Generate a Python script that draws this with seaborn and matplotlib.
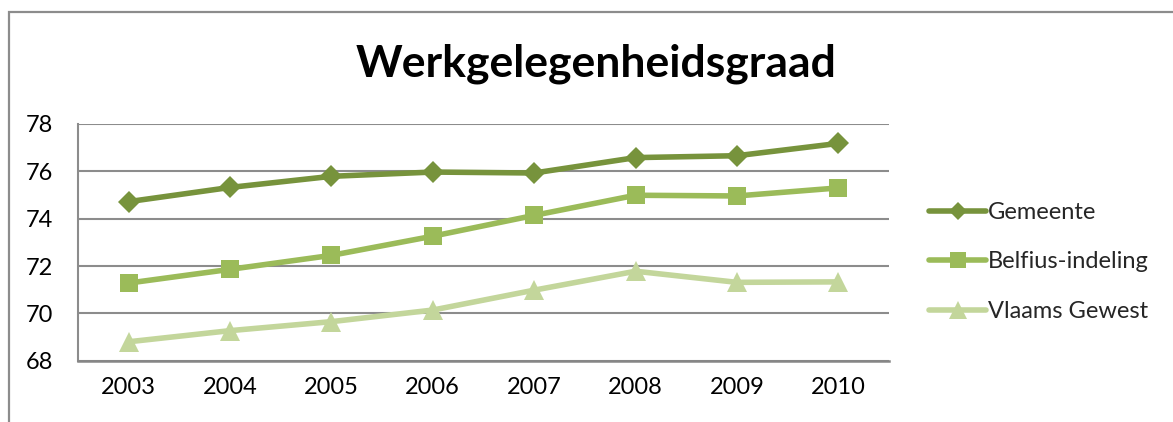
import matplotlib
matplotlib.use("Agg")
import matplotlib.pyplot as plt
from matplotlib.patches import Rectangle
import seaborn as sns
import pandas as pd

years = ["2003", "2004", "2005", "2006", "2007", "2008", "2009", "2010"]
gemeente = [74.72, 75.32, 75.79, 75.97, 75.93, 76.58, 76.66, 77.18]
belfius = [71.28, 71.86, 72.45, 73.26, 74.14, 74.99, 74.96, 75.30]
vlaams = [68.80, 69.27, 69.65, 70.14, 70.98, 71.78, 71.31, 71.33]
series_names = ["Gemeente", "Belfius-indeling", "Vlaams Gewest"]
y_ticks = [68, 70, 72, 74, 76, 78]
title = "Werkgelegenheidsgraad"

colors = {"Gemeente": "#77933C", "Belfius-indeling": "#9BBB59", "Vlaams Gewest": "#C3D69B"}
markers = {"Gemeente": "D", "Belfius-indeling": "s", "Vlaams Gewest": "^"}
sizes = {"Gemeente": 11, "Belfius-indeling": 13, "Vlaams Gewest": 15}

rows = []
for name, vals in zip(series_names, [gemeente, belfius, vlaams]):
    for i, v in enumerate(vals):
        rows.append({"pos": i, "jaar": years[i], "waarde": v, "reeks": name})
df = pd.DataFrame(rows)

sns.set_theme(style="white")
plt.rcParams["font.family"] = ["Lato", "DejaVu Sans"]

fig = plt.figure(figsize=(11.73, 4.22), dpi=100)
W, H = 1173, 422
ax = fig.add_axes([78 / W, 1 - 360.7 / H, (889 - 78) / W, (360.7 - 124) / H])

# chart frame
fig.patches.append(Rectangle((8.5 / W, -0.1), 1.2, 1 - 12 / H + 0.1, transform=fig.transFigure,
                             fill=False, edgecolor="#8c8c8c", linewidth=1.6, zorder=0))

for name in series_names:
    sub = df[df["reeks"] == name]
    sns.lineplot(data=sub, x="pos", y="waarde", ax=ax, color=colors[name],
                 marker=markers[name], markersize=sizes[name], markeredgewidth=0,
                 linewidth=4, label=name, zorder=3, clip_on=False)

ax.set_xlim(-0.5, 7.5)
ax.set_ylim(68, 78)
ax.set_yticks(y_ticks)
ax.set_xticks(range(len(years)))
ax.set_xticklabels(years)
ax.set_xlabel("")
ax.set_ylabel("")
ax.grid(axis="y", color="#8c8c8c", linewidth=1.5)
ax.grid(axis="x", visible=False)
for s in ["top", "right"]:
    ax.spines[s].set_visible(False)
ax.spines["left"].set_color("#8c8c8c")
ax.spines["left"].set_linewidth(1.5)
ax.spines["bottom"].set_color("#868686")
ax.spines["bottom"].set_linewidth(1.8)
ax.tick_params(axis="both", length=0, labelsize=17, colors="black")
ax.tick_params(axis="y", pad=18)
ax.tick_params(axis="x", pad=12)

fig.text(596 / W, 1 - 64 / H, title, ha="center", va="center",
         fontsize=32, fontweight="bold", color="black")

leg = ax.legend(loc="center left", bbox_to_anchor=(908 / W, 1 - 262 / H),
                bbox_transform=fig.transFigure, frameon=False, fontsize=17,
                handlelength=2.4, handletextpad=0.1, labelspacing=1.2,
                markerscale=0.85)

fig.savefig("out.png", dpi=100)
